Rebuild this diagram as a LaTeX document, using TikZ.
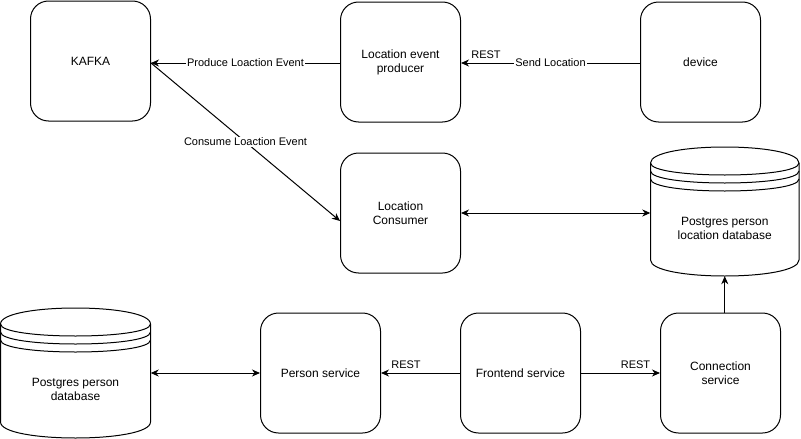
\documentclass[tikz,border=0pt]{standalone}
\usepackage{fontspec}
\setmainfont{Liberation Sans}
\usetikzlibrary{arrows.meta}
\tikzset{
  box/.style={draw, line width=1pt, rounded corners=18pt, minimum width=120pt, minimum height=120pt, inner sep=0pt, align=center, font=\fontsize{12}{14}\selectfont},
  dbarea/.style={minimum width=#1, minimum height=130pt, inner sep=0pt},
  dbtext/.style={align=center, font=\fontsize{12}{14}\selectfont},
  conn/.style={line width=1pt, -{Stealth[length=8pt,width=7pt,inset=2.5pt]}},
  biconn/.style={line width=1pt, {Stealth[length=8pt,width=7pt,inset=2.5pt]}-{Stealth[length=8pt,width=7pt,inset=2.5pt]}},
  elabel/.style={fill=white, inner sep=1pt, font=\fontsize{11}{13}\selectfont},
  rlabel/.style={inner sep=0pt, font=\fontsize{11}{13}\selectfont},
}
\newcommand\mydbshape[4]{%
  \draw[line width=1pt, fill=white]
    ({#1},{#2+16}) .. controls ({#1},{#2-16/3}) and ({#1+#3},{#2-16/3}) .. ({#1+#3},{#2+16})
    -- ({#1+#3},{#2+#4-16}) .. controls ({#1+#3},{#2+#4+16/3}) and ({#1},{#2+#4+16/3}) .. ({#1},{#2+#4-16}) -- cycle;
  \foreach \k in {0,8,16}{
    \draw[line width=1pt] ({#1},{#2+16+\k}) .. controls ({#1},{#2+32+\k}) and ({#1+#3},{#2+32+\k}) .. ({#1+#3},{#2+16+\k});
  }%
}
\begin{document}
\begin{tikzpicture}[x=1pt,y=-1pt]
\useasboundingbox (0,0) rectangle (801,439);

% boxes
\node[box] (kafka) at (90.5,61) {KAFKA};
\node[box] (prod) at (400.5,62) {Location event\\producer};
\node[box] (dev) at (700.5,62) {device};
\node[box] (cons) at (400.5,213) {Location\\Consumer};
\node[box] (pers) at (320.5,373) {Person service};
\node[box] (front) at (520.5,373) {Frontend service};
\node[box] (connsvc) at (720.5,373) {Connection\\service};

% databases
\mydbshape{650.5}{147}{148.5}{129}
\node[dbarea=148.5pt, minimum height=129pt] (ldb) at (724.75,211.5) {};
\node[dbtext] (ldbt) at (724.75,228) {Postgres person\\location database};

\mydbshape{0.5}{308}{150}{130}
\node[dbarea=150pt] (pdb) at (75.5,373) {};
\node[dbtext] (pdbt) at (75.5,389) {Postgres person\\database};

% connectors
\draw[conn] (prod.west |- 0,63) coordinate (p1) -- (kafka.east |- 0,63) coordinate (k1)
  node[elabel, midway] (lab1) {Produce Loaction Event};
\draw[conn] (dev.west |- 0,63) coordinate (d1) -- (prod.east |- 0,63) coordinate (p2)
  node[elabel, midway] (lab2) {Send Location};
\node[rlabel] (rest1) at (486,55) {REST};

\coordinate (c1) at (cons.west |- 0,221);
\draw[conn] (k1) -- (c1) node[elabel, pos=0.5] (lab3) {Consume Loaction Event};

\draw[biconn] (cons.east) -- (ldb.west |- cons.east);
\draw[biconn] (pdb.east) -- (pers.west);

\draw[conn] (front.west) -- (pers.east);
\node[rlabel] (rest2) at (406,365) {REST};
\draw[conn] (front.east) -- (connsvc.west);
\node[rlabel] (rest3) at (635.5,365) {REST};

\draw[conn] (connsvc.north -| ldb.south) -- (ldb.south);
\end{tikzpicture}
\end{document}
